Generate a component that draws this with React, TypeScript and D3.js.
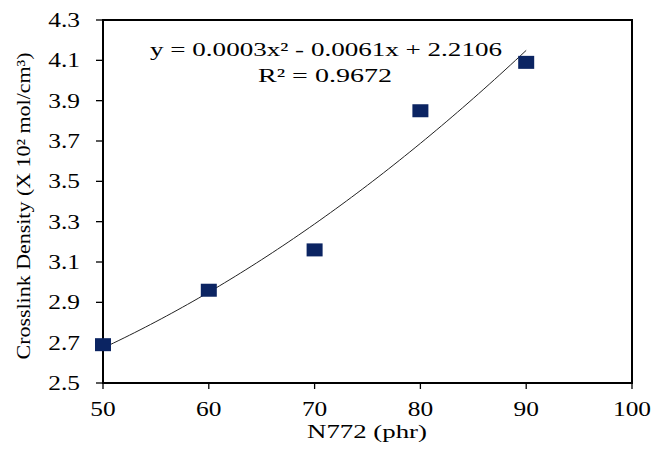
import React from "react";
import * as d3 from "d3";

// N772 loading (phr) and measured crosslink density
const loadings = [50, 60, 70, 80, 90];
const density = [2.69, 2.96, 3.16, 3.85, 4.09];
const xTicks = [50, 60, 70, 80, 90, 100];
const yTicks = [2.5, 2.7, 2.9, 3.1, 3.3, 3.5, 3.7, 3.9, 4.1, 4.3];
const equationText = "y = 0.0003x² - 0.0061x + 2.2106";
const r2Text = "R² = 0.9672";

const W = 656;
const H = 451;
const M = { left: 103, right: 632, top: 20, bottom: 383 };
const SX = 1.27; // horizontal glyph stretch
const FONT = "'Liberation Serif', 'Times New Roman', serif";

// Least-squares quadratic fit y = a + b x + c x^2
function quadFit(xs: number[], ys: number[]) {
  const n = xs.length;
  const s = [0, 0, 0, 0, 0];
  const t = [0, 0, 0];
  for (let i = 0; i < n; i++) {
    const x = xs[i];
    for (let k = 0; k < 5; k++) s[k] += Math.pow(x, k);
    for (let k = 0; k < 3; k++) t[k] += ys[i] * Math.pow(x, k);
  }
  const A = [
    [s[0], s[1], s[2], t[0]],
    [s[1], s[2], s[3], t[1]],
    [s[2], s[3], s[4], t[2]],
  ];
  for (let i = 0; i < 3; i++) {
    for (let j = i + 1; j < 3; j++) {
      const f = A[j][i] / A[i][i];
      for (let k = i; k < 4; k++) A[j][k] -= f * A[i][k];
    }
  }
  const r = [0, 0, 0];
  for (let i = 2; i >= 0; i--) {
    let v = A[i][3];
    for (let k = i + 1; k < 3; k++) v -= A[i][k] * r[k];
    r[i] = v / A[i][i];
  }
  return (x: number) => r[0] + r[1] * x + r[2] * x * x;
}

function SText(props: {
  x: number;
  y: number;
  size: number;
  anchor?: string;
  children: React.ReactNode;
}) {
  return (
    <g transform={`translate(${props.x},${props.y}) scale(${SX},1)`}>
      <text
        x={0}
        y={0}
        fontSize={props.size}
        fontFamily={FONT}
        textAnchor={props.anchor || "middle"}
        fill="#000"
      >
        {props.children}
      </text>
    </g>
  );
}

function FitText(props: {
  x: number;
  y: number;
  size: number;
  len: number;
  children: React.ReactNode;
}) {
  return (
    <text
      x={props.x - props.len / 2}
      y={props.y}
      fontSize={props.size}
      fontFamily={FONT}
      textLength={props.len}
      lengthAdjust="spacingAndGlyphs"
      fill="#000"
    >
      {props.children}
    </text>
  );
}

export default function App() {
  const x = d3.scaleLinear().domain([50, 100]).range([M.left, M.right]);
  const y = d3.scaleLinear().domain([2.5, 4.3]).range([M.bottom, M.top]);
  const fit = quadFit(loadings, density);
  const curvePts = d3.range(50, 90.001, 0.5).map((v) => [v, fit(v)] as [number, number]);
  const line = d3
    .line<[number, number]>()
    .x((d) => x(d[0]))
    .y((d) => y(d[1]));

  return (
    <svg
      width={W}
      height={H}
      style={{ position: "absolute", left: 0, top: 0, background: "#fff" }}
    >
      <rect x={0} y={0} width={W} height={H} fill="#fff" />
      {/* plot frame */}
      <rect
        x={M.left}
        y={M.top}
        width={M.right - M.left}
        height={M.bottom - M.top}
        fill="none"
        stroke="#000"
        strokeWidth={2}
      />
      {/* y ticks */}
      {yTicks.map((t) => (
        <g key={"y" + t}>
          <line x1={M.left - 7} x2={M.left} y1={y(t)} y2={y(t)} stroke="#000" strokeWidth={1.3} />
          <SText x={80} y={y(t) + 7} size={20} anchor="end">
            {t.toFixed(1)}
          </SText>
        </g>
      ))}
      {/* x ticks */}
      {xTicks.map((t) => (
        <g key={"x" + t}>
          <line x1={x(t)} x2={x(t)} y1={M.bottom} y2={M.bottom + 6} stroke="#000" strokeWidth={1.3} />
          <SText x={x(t)} y={416} size={20}>
            {String(t)}
          </SText>
        </g>
      ))}
      {/* trendline */}
      <path d={line(curvePts) || ""} fill="none" stroke="#222" strokeWidth={1} />
      {/* data markers */}
      {loadings.map((v, i) => (
        <rect
          key={"m" + v}
          x={x(v) - 8}
          y={y(density[i]) - 6.5}
          width={16}
          height={13}
          fill="#0b2462"
        />
      ))}
      {/* trendline equation */}
      <FitText x={326} y={56} size={19} len={352}>
        {equationText}
      </FitText>
      <FitText x={325} y={82} size={19} len={134}>
        {r2Text}
      </FitText>
      {/* axis titles */}
      <FitText x={367} y={438} size={19} len={120}>
        N772 (phr)
      </FitText>
      <g transform="translate(30,206) rotate(-90)">
        <FitText x={0} y={0} size={19} len={307}>
          Crosslink Density (X 10² mol/cm³)
        </FitText>
      </g>
    </svg>
  );
}
